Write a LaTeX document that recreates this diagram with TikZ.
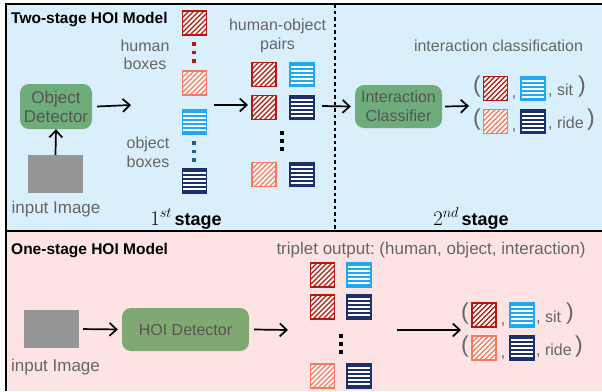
\documentclass[tikz,border=0pt]{standalone}
\usepackage{fontspec}
\setmainfont{Liberation Sans}
\usetikzlibrary{arrows.meta}
\frenchspacing
\definecolor{bgblue}{HTML}{DAEFFC}
\definecolor{bgpink}{HTML}{FDE3E3}
\definecolor{hred}{HTML}{B7180E}
\definecolor{hsalmon}{HTML}{F7775F}
\definecolor{oblue}{HTML}{1DA9F6}
\definecolor{onavy}{HTML}{1A2F6B}
\definecolor{boxgreen}{HTML}{6EAD7B}
\definecolor{boxgreen2}{HTML}{80A972}
\definecolor{txtgray}{HTML}{666666}
\definecolor{boxtxt}{HTML}{555555}
\definecolor{dotblue}{HTML}{1D5E8C}
\definecolor{imggray}{HTML}{959595}
\tikzset{
  sq/.style={minimum size=24pt, inner sep=0pt, outer sep=0pt, line width=1.8pt},
  hatch/.style={sq, draw=#1, fill=#1, path picture={
    \foreach \k in {-30,-25,...,30}
      \draw[white, line width=1.9pt] ([xshift=\k pt]path picture bounding box.south west) -- ++(30pt,30pt);}},
  lined/.style={sq, draw=#1, fill=#1, path picture={
    \foreach \k in {4,8,...,22}
      \draw[white, line width=2pt] ([yshift=\k pt]path picture bounding box.south west) -- ++(30pt,0pt);}},
  lbl/.style={text=txtgray, align=center, inner sep=0pt},
  big/.style={font=\fontsize{17}{19}\selectfont},
  title/.style={font=\fontsize{15.5}{18}\selectfont\bfseries, anchor=west, inner sep=0pt},
  gbox/.style={rounded corners=9pt, fill=#1, text=boxtxt, align=center, inner sep=0pt},
  photo/.style={fill=imggray, minimum width=55pt, minimum height=38pt, inner sep=0pt},
  arr/.style={line width=1.7pt, -{Straight Barb[length=7pt,width=13pt,line width=1.7pt]}},
  dotsq/.style={fill=#1, minimum size=3.5pt, inner sep=0pt},
  par/.style={text=txtgray, font=\fontsize{23}{25}\selectfont, inner sep=0pt},
  stagelbl/.style={inner sep=0pt, anchor=base},
}
\begin{document}
\begin{tikzpicture}[x=1pt,y=-1pt, font=\fontsize{16}{18.5}\selectfont]
\useasboundingbox (0,0) rectangle (602,391);
% backgrounds
\fill[bgblue] (6,4) rectangle (602,231);
\fill[bgpink] (6,231) rectangle (602,391);
\draw[line width=1.4pt] (602,4) -- (6,4) -- (6,391);
\draw[line width=1.4pt] (6,231) -- (602,231);
\draw[line width=1.6pt, dash pattern=on 3.5pt off 3pt] (335,4) -- (335,231);

% ---------- top panel ----------
\node[title] (t1) at (11,20) {Two-stage HOI Model};
\node[gbox=boxgreen, big, minimum width=72pt, minimum height=45pt] (det) at (56,106.5) {Object\\Detector};
\node[photo] (img1) at (55.5,174) {};
\node[lbl, big] (in1) at (56,209) {input Image};
\draw[arr] (img1.north) -- (det.south);

\node[lbl] (hb) at (145,55) {human\\boxes};
\node[lbl] (ob) at (148,152.5) {object\\boxes};
\node[hatch=hred] (h1) at (194.5,23) {};
\node[hatch=hsalmon] (h2) at (194.5,83) {};
\node[lined=oblue] (o1) at (194.5,122) {};
\node[lined=onavy] (o2) at (194.5,181) {};
\foreach \y [count=\i] in {44,52.5,61} \node[dotsq=hred] (rd\i) at (194,\y) {};
\foreach \y [count=\i] in {143,151.5,160} \node[dotsq=dotblue] (bd\i) at (194,\y) {};
\coordinate (a1e) at (131,105);
\draw[arr] (det.east) ++(5,0) coordinate (a1s) -- (a1e);

\node[lbl] (hop) at (277.5,36) {human-object\\pairs};
\node[hatch=hred] (p11) at (264,74.5) {};
\node[lined=oblue] (p12) at (302,74.5) {};
\node[hatch=hred] (p21) at (264,107.5) {};
\node[lined=onavy] (p22) at (302,107.5) {};
\node[hatch=hsalmon] (p31) at (264,174.5) {};
\node[lined=onavy] (p32) at (302,174.5) {};
\foreach \y [count=\i] in {133,141,149} \node[dotsq=black] (kd\i) at (282,\y) {};
\coordinate (a2s) at (214,105);
\coordinate (a2e) at (248,105);
\draw[arr] (a2s) -- (a2e);

\node[gbox=boxgreen, minimum width=87pt, minimum height=43pt] (cls) at (398.5,106.5) {Interaction\\Classifier};
\coordinate (a3s) at (322,106);
\draw[arr] (a3s) -- ([xshift=-4pt]cls.west);
\coordinate (a4e) at (469,106);
\draw[arr] ([xshift=3pt]cls.east) -- (a4e);

\node[lbl] (ic) at (498.5,46) {interaction classification};
\node[par] (lp1) at (477,87) {(};
\node[hatch=hred] (r11) at (495.5,88.5) {};
\node[lbl, anchor=base] (c11) at (514,97) {,};
\node[lined=oblue] (r12) at (533,88.5) {};
\node[lbl, anchor=base west] (s1) at (548,95) {, sit};
\node[par] (rp1) at (582,87) {)};
\node[par] (lp2) at (477,120) {(};
\node[hatch=hsalmon] (r21) at (495.5,121.5) {};
\node[lbl, anchor=base] (c21) at (514,130) {,};
\node[lined=onavy] (r22) at (533,121.5) {};
\node[lbl, anchor=base west] (s2) at (548,128) {, ride};
\node[par] (rp2) at (591,120) {)};

\node[stagelbl] (st1) at (186,225) {{\fontsize{22}{24}\selectfont$1^{st}$}\,{\fontsize{18}{20}\selectfont\bfseries stage}};
\node[stagelbl] (st2) at (471,225) {{\fontsize{22}{24}\selectfont$2^{nd}$}\,{\fontsize{18}{20}\selectfont\bfseries stage}};

% ---------- bottom panel ----------
\node[title] (t2) at (11,251) {One-stage HOI Model};
\node[lbl, big] (trip) at (431,250) {triplet output: (human, object, interaction)};
\node[photo] (img2) at (51.5,329) {};
\node[lbl, big] (in2) at (55.5,367) {input Image};
\node[gbox=boxgreen2, minimum width=127pt, minimum height=43pt] (hoi) at (185.5,329.5) {HOI Detector};
\draw[arr, shorten <=4pt, shorten >=4pt] (img2.east) -- (hoi.west);
\coordinate (b2e) at (288,330);
\draw[arr] ([xshift=5pt]hoi.east) -- (b2e);

\node[hatch=hred] (q11) at (322.5,275) {};
\node[lined=oblue] (q12) at (359,275) {};
\node[hatch=hred] (q21) at (322.5,307) {};
\node[lined=onavy] (q22) at (359,307) {};
\node[hatch=hsalmon] (q31) at (322.5,376) {};
\node[lined=onavy] (q32) at (359,376) {};
\foreach \y [count=\i] in {336,344,352} \node[dotsq=black] (ld\i) at (341,\y) {};
\coordinate (b3s) at (397,330);
\coordinate (b3e) at (461,330);
\draw[arr] (b3s) -- (b3e);

\node[par] (lp3) at (465,314) {(};
\node[hatch=hred] (u11) at (484,315) {};
\node[lbl, anchor=base] (c31) at (503,324) {,};
\node[lined=oblue] (u12) at (522,315) {};
\node[lbl, anchor=base west] (s3) at (536,322) {, sit};
\node[par] (rp3) at (570,314) {)};
\node[par] (lp4) at (465,347) {(};
\node[hatch=hsalmon] (u21) at (484,348) {};
\node[lbl, anchor=base] (c41) at (503,357) {,};
\node[lined=onavy] (u22) at (522,348) {};
\node[lbl, anchor=base west] (s4) at (536,355) {, ride};
\node[par] (rp4) at (579,347) {)};
\end{tikzpicture}
\end{document}
